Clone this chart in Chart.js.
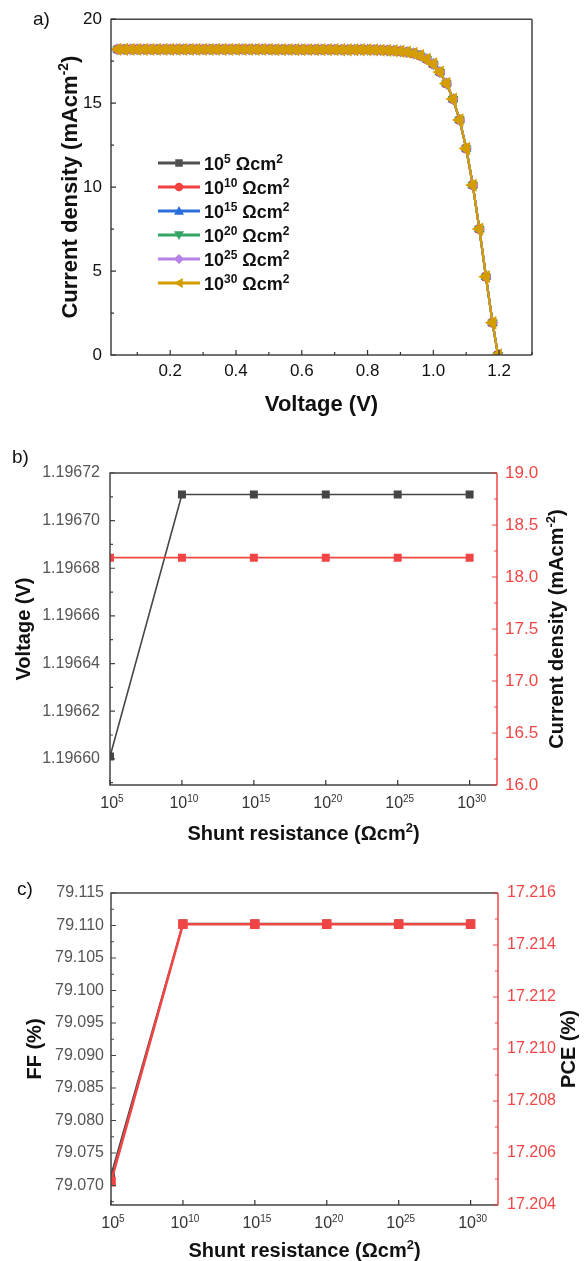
<!DOCTYPE html>
<html>
<head>
<meta charset="utf-8">
<script src="https://cdn.jsdelivr.net/npm/chart.js@4/dist/chart.umd.min.js"></script>
<style>
  body { margin: 0; background: #fff; width: 584px; height: 1261px; position: relative; overflow: hidden; }
  canvas { position: absolute; left: 0; }
</style>
</head>
<body>
<canvas id="chart-a" width="584" height="420" style="top:0"></canvas>
<canvas id="chart-b" width="584" height="440" style="top:420px"></canvas>
<canvas id="chart-c" width="584" height="421" style="top:840px"></canvas>
<script>
// panel a: J-V curves (all six shunt resistances overlap)
const resistanceExp = ["5", "10", "15", "20", "25", "30"];
const voltage = [0.04, 0.06, 0.08, 0.10, 0.12, 0.14, 0.16, 0.18, 0.20, 0.22, 0.24, 0.26, 0.28, 0.30,
  0.32, 0.34, 0.36, 0.38, 0.40, 0.42, 0.44, 0.46, 0.48, 0.50, 0.52, 0.54, 0.56, 0.58, 0.60, 0.62,
  0.64, 0.66, 0.68, 0.70, 0.72, 0.74, 0.76, 0.78, 0.80, 0.82, 0.84, 0.86, 0.88, 0.90, 0.92, 0.94,
  0.96, 0.98, 1.00, 1.02, 1.04, 1.06, 1.08, 1.10, 1.12, 1.14, 1.16, 1.18, 1.1967];
const currentDensity = [18.20, 18.20, 18.20, 18.20, 18.20, 18.20, 18.20, 18.20, 18.20, 18.20, 18.20,
  18.20, 18.20, 18.20, 18.20, 18.20, 18.20, 18.20, 18.20, 18.20, 18.20, 18.20, 18.20, 18.20,
  18.19, 18.19, 18.19, 18.19, 18.19, 18.19, 18.19, 18.19, 18.19, 18.19,
  18.18, 18.18, 18.18, 18.18, 18.18,
  18.17, 18.16, 18.14, 18.12, 18.09, 18.04, 17.96, 17.83, 17.62, 17.33, 16.85, 16.17, 15.24,
  14.00, 12.30, 10.12, 7.50, 4.66, 1.92, 0];
const voltageTicks = [0.2, 0.4, 0.6, 0.8, 1.0, 1.2];
const currentTicks = [0, 5, 10, 15, 20];

// panels b and c: values against shunt resistance
const shuntResistance = [1e5, 1e10, 1e15, 1e20, 1e25, 1e30];
const shuntExp = ["5", "10", "15", "20", "25", "30"];
const vocValues = [1.196601, 1.196711, 1.196711, 1.196711, 1.196711, 1.196711];
const jscValues = [18.186, 18.186, 18.186, 18.186, 18.186, 18.186];
const ffValues = [79.0716, 79.1103, 79.1103, 79.1103, 79.1103, 79.1103];
const pceValues = [17.2049, 17.2148, 17.2148, 17.2148, 17.2148, 17.2148];
const vocTicks = [1.19660, 1.19662, 1.19664, 1.19666, 1.19668, 1.19670, 1.19672];
const jscTicks = [16.0, 16.5, 17.0, 17.5, 18.0, 18.5, 19.0];
const ffTicks = [79.070, 79.075, 79.080, 79.085, 79.090, 79.095, 79.100, 79.105, 79.110, 79.115];
const pceTicks = [17.204, 17.206, 17.208, 17.210, 17.212, 17.214, 17.216];

const FONT = '"Liberation Sans", Arial, sans-serif';
const RED = "#f04545";
const seriesColors = ["#505050", "#f04040", "#2a6fdb", "#35a567", "#b583e6", "#d49d00"];
const markerStyles = ["rect", "circle", "triangle", "triangle", "rectRot", "triangle"];
const markerRotation = [0, 0, 0, 180, 0, -90];
const markerSize = [4, 4, 4, 4, 4, 5.5];

// text with superscripts: parts = [[text, isSup], ...]
function richText(ctx, parts, x, y, size, weight, color, align, angle) {
  ctx.save();
  ctx.translate(x, y);
  if (angle) ctx.rotate(angle);
  ctx.fillStyle = color;
  ctx.textBaseline = "alphabetic";
  ctx.textAlign = "left";
  const fontFor = sup => `${weight} ${sup ? Math.round(size * 0.64) : size}px ${FONT}`;
  let w = 0;
  parts.forEach(([t, sup]) => { ctx.font = fontFor(sup); w += ctx.measureText(t).width; });
  let cx = align === "center" ? -w / 2 : (align === "right" ? -w : 0);
  parts.forEach(([t, sup]) => {
    ctx.font = fontFor(sup);
    ctx.fillText(t, cx, sup ? -size * 0.4 : 0);
    cx += ctx.measureText(t).width;
  });
  ctx.restore();
}

function drawFrame(ctx, a, color, rightColor) {
  ctx.lineWidth = 1.5;
  ctx.strokeStyle = color;
  ctx.beginPath();
  ctx.moveTo(a.right, a.top);
  ctx.lineTo(a.left, a.top);
  ctx.lineTo(a.left, a.bottom);
  ctx.lineTo(a.right, a.bottom);
  ctx.stroke();
  ctx.strokeStyle = rightColor || color;
  ctx.beginPath();
  ctx.moveTo(a.right, a.top);
  ctx.lineTo(a.right, a.bottom);
  ctx.stroke();
}

// inward tick marks, minor ones halfway between majors
function drawTicks(ctx, scale, majors, side, color, withMinor) {
  const a = scale.chart.chartArea;
  const marks = majors.map(v => [v, 5]);
  if (withMinor) {
    const step = majors[1] - majors[0];
    for (let i = -1; i < majors.length; i++) {
      const v = majors[0] + (i + 0.5) * step;
      if (v >= scale.min && v <= scale.max) marks.push([v, 3]);
    }
  }
  ctx.strokeStyle = color;
  ctx.lineWidth = 1.2;
  ctx.beginPath();
  marks.forEach(([v, len]) => {
    const p = scale.getPixelForValue(v);
    if (side === "left") { ctx.moveTo(a.left, p); ctx.lineTo(a.left + len, p); }
    if (side === "right") { ctx.moveTo(a.right, p); ctx.lineTo(a.right - len, p); }
    if (side === "bottom") { ctx.moveTo(p, a.bottom); ctx.lineTo(p, a.bottom - len); }
  });
  ctx.stroke();
}

function drawMarker(ctx, style, rot, x, y, r, color) {
  ctx.save();
  ctx.translate(x, y);
  ctx.rotate(rot * Math.PI / 180);
  ctx.fillStyle = color;
  ctx.beginPath();
  if (style === "rect") ctx.rect(-r * 0.75, -r * 0.75, r * 1.5, r * 1.5);
  else if (style === "circle") ctx.arc(0, 0, r * 0.85, 0, Math.PI * 2);
  else if (style === "rectRot") { ctx.moveTo(0, -r); ctx.lineTo(r, 0); ctx.lineTo(0, r); ctx.lineTo(-r, 0); }
  else { ctx.moveTo(0, -r); ctx.lineTo(r, r * 0.75); ctx.lineTo(-r, r * 0.75); }
  ctx.closePath();
  ctx.fill();
  ctx.restore();
}

const setTicks = list => scale => { scale.ticks = list.map(v => ({ value: v })); };
const hiddenGrid = { display: false, drawTicks: false };

// ---------- a) ----------
new Chart(document.getElementById("chart-a"), {
  type: "line",
  data: {
    datasets: resistanceExp.map((e, i) => ({
      label: `1e${e}`,
      data: voltage.map((v, k) => ({ x: v, y: currentDensity[k] })),
      borderColor: seriesColors[i],
      backgroundColor: seriesColors[i],
      pointBorderColor: seriesColors[i],
      pointStyle: markerStyles[i],
      pointRotation: markerRotation[i],
      pointRadius: markerSize[i],
      borderWidth: 2.2,
      order: 6 - i
    }))
  },
  options: {
    responsive: false,
    animation: false,
    layout: { padding: { left: 0, top: 19, right: 52, bottom: 0 } },
    plugins: { legend: { display: false }, tooltip: { enabled: false } },
    scales: {
      x: {
        type: "linear", min: 0.02, max: 1.3,
        afterBuildTicks: setTicks(voltageTicks),
        afterFit: s => { s.height = 65; },
        grid: hiddenGrid, border: { display: false },
        ticks: { color: "#111", font: { size: 17, family: FONT }, padding: 6, maxRotation: 0, autoSkip: false,
          callback: v => v.toFixed(1) }
      },
      y: {
        min: 0, max: 20,
        afterBuildTicks: setTicks(currentTicks),
        afterFit: s => { s.width = 111; },
        grid: hiddenGrid, border: { display: false },
        ticks: { color: "#111", font: { size: 17, family: FONT }, padding: 9, callback: v => String(v) }
      }
    }
  },
  plugins: [{
    id: "decorA",
    afterDraw(chart) {
      const ctx = chart.ctx, a = chart.chartArea;
      ctx.save();
      drawFrame(ctx, a, "#444");
      drawTicks(ctx, chart.scales.x, voltageTicks, "bottom", "#333", true);
      drawTicks(ctx, chart.scales.y, currentTicks, "left", "#333", true);
      richText(ctx, [["Voltage (V)"]], (a.left + a.right) / 2, 411, 22, "bold", "#111", "center");
      richText(ctx, [["Current density (mAcm"], ["-2", true], [")"]], 77, (a.top + a.bottom) / 2,
        22, "bold", "#111", "center", -Math.PI / 2);
      richText(ctx, [["a)"]], 33, 25, 19, "normal", "#111", "left");
      // legend
      resistanceExp.forEach((e, i) => {
        const y = 163 + 24 * i;
        ctx.strokeStyle = seriesColors[i];
        ctx.lineWidth = 3;
        ctx.beginPath();
        ctx.moveTo(158, y);
        ctx.lineTo(200, y);
        ctx.stroke();
        drawMarker(ctx, markerStyles[i], markerRotation[i], 179, y, 5, seriesColors[i]);
        richText(ctx, [["10"], [e, true], [" \u03A9cm"], ["2", true]], 204, y + 7, 18, "bold", "#111", "left");
      });
      ctx.restore();
    }
  }]
});

// ---------- b) and c) ----------
function shuntChart(id, opt) {
  new Chart(document.getElementById(id), {
    type: "line",
    data: {
      datasets: [
        {
          data: shuntResistance.map((r, k) => ({ x: r, y: opt.left[k] })),
          yAxisID: "y", borderColor: "#454545", backgroundColor: "#454545",
          pointStyle: "rect", pointRadius: 4.5, borderWidth: 1.6, order: 1
        },
        {
          data: shuntResistance.map((r, k) => ({ x: r, y: opt.right[k] })),
          yAxisID: "y2", borderColor: RED, backgroundColor: RED,
          pointStyle: "rect", pointRadius: opt.redRadius, borderWidth: opt.redWidth, order: 0
        }
      ]
    },
    options: {
      responsive: false,
      animation: false,
      layout: { padding: { left: 0, top: 53, right: 0, bottom: 0 } },
      plugins: { legend: { display: false }, tooltip: { enabled: false } },
      scales: {
        x: {
          type: "logarithmic", min: 1e5, max: 8e31,
          afterBuildTicks: setTicks(shuntResistance),
          afterFit: s => { s.height = opt.xHeight; },
          grid: hiddenGrid, border: { display: false }, ticks: { display: false }
        },
        y: {
          position: "left", min: opt.leftMin, max: opt.leftMax,
          afterBuildTicks: setTicks(opt.leftTicks),
          afterFit: s => { s.width = opt.leftWidth; },
          grid: hiddenGrid, border: { display: false },
          ticks: { color: "#555", font: { size: 16, family: FONT }, padding: opt.leftPad,
            callback: v => v.toFixed(opt.leftDigits) }
        },
        y2: {
          position: "right", min: opt.rightMin, max: opt.rightMax,
          afterBuildTicks: setTicks(opt.rightTicks),
          afterFit: s => { s.width = opt.rightWidth; },
          grid: hiddenGrid, border: { display: false },
          ticks: { color: RED, font: { size: opt.rightFont, family: FONT }, padding: opt.rightPad,
            callback: v => v.toFixed(opt.rightDigits) }
        }
      }
    },
    plugins: [{
      id: "decor" + id,
      afterDraw(chart) {
        const ctx = chart.ctx, a = chart.chartArea, sx = chart.scales.x;
        ctx.save();
        drawFrame(ctx, a, "#444", RED);
        drawTicks(ctx, sx, shuntResistance, "bottom", "#333", false);
        drawTicks(ctx, chart.scales.y, opt.leftTicks, "left", "#444", true);
        drawTicks(ctx, chart.scales.y2, opt.rightTicks, "right", RED, true);
        shuntResistance.forEach((r, k) => {
          richText(ctx, [["10"], [shuntExp[k], true]], sx.getPixelForValue(r) + 2, a.bottom + 23,
            16, "normal", "#333", "center");
        });
        richText(ctx, [["Shunt resistance (\u03A9cm"], ["2", true], [")"]], (a.left + a.right) / 2,
          opt.xTitleY, 20, "bold", "#111", "center");
        richText(ctx, opt.leftTitle, opt.leftTitleX, (a.top + a.bottom) / 2, 20, "bold", "#111",
          "center", -Math.PI / 2);
        richText(ctx, opt.rightTitle, opt.rightTitleX, (a.top + a.bottom) / 2, 20, "bold", "#111",
          "center", -Math.PI / 2);
        richText(ctx, [[opt.letter]], opt.letterX, opt.letterY, 19, "normal", "#111", "left");
        ctx.restore();
      }
    }]
  });
}

shuntChart("chart-b", {
  left: vocValues, right: jscValues,
  leftTicks: vocTicks, rightTicks: jscTicks,
  leftMin: 1.196589, leftMax: 1.19672, rightMin: 16, rightMax: 19,
  leftDigits: 5, rightDigits: 1, rightFont: 17,
  leftWidth: 110, rightWidth: 87, leftPad: 10, rightPad: 8, xHeight: 75,
  redRadius: 4.5, redWidth: 1.6,
  xTitleY: 420,
  leftTitle: [["Voltage (V)"]], leftTitleX: 30,
  rightTitle: [["Current density (mAcm"], ["-2", true], [")"]], rightTitleX: 563,
  letter: "b)", letterX: 12, letterY: 43
});

shuntChart("chart-c", {
  left: ffValues, right: pceValues,
  leftTicks: ffTicks, rightTicks: pceTicks,
  leftMin: 79.067, leftMax: 79.115, rightMin: 17.204, rightMax: 17.216,
  leftDigits: 3, rightDigits: 3, rightFont: 16,
  leftWidth: 111, rightWidth: 86, leftPad: 7, rightPad: 9, xHeight: 56,
  redRadius: 5, redWidth: 2.6,
  xTitleY: 417,
  leftTitle: [["FF (%)"]], leftTitleX: 41,
  rightTitle: [["PCE (%)"]], rightTitleX: 575,
  letter: "c)", letterX: 17, letterY: 55
});
</script>
</body>
</html>
